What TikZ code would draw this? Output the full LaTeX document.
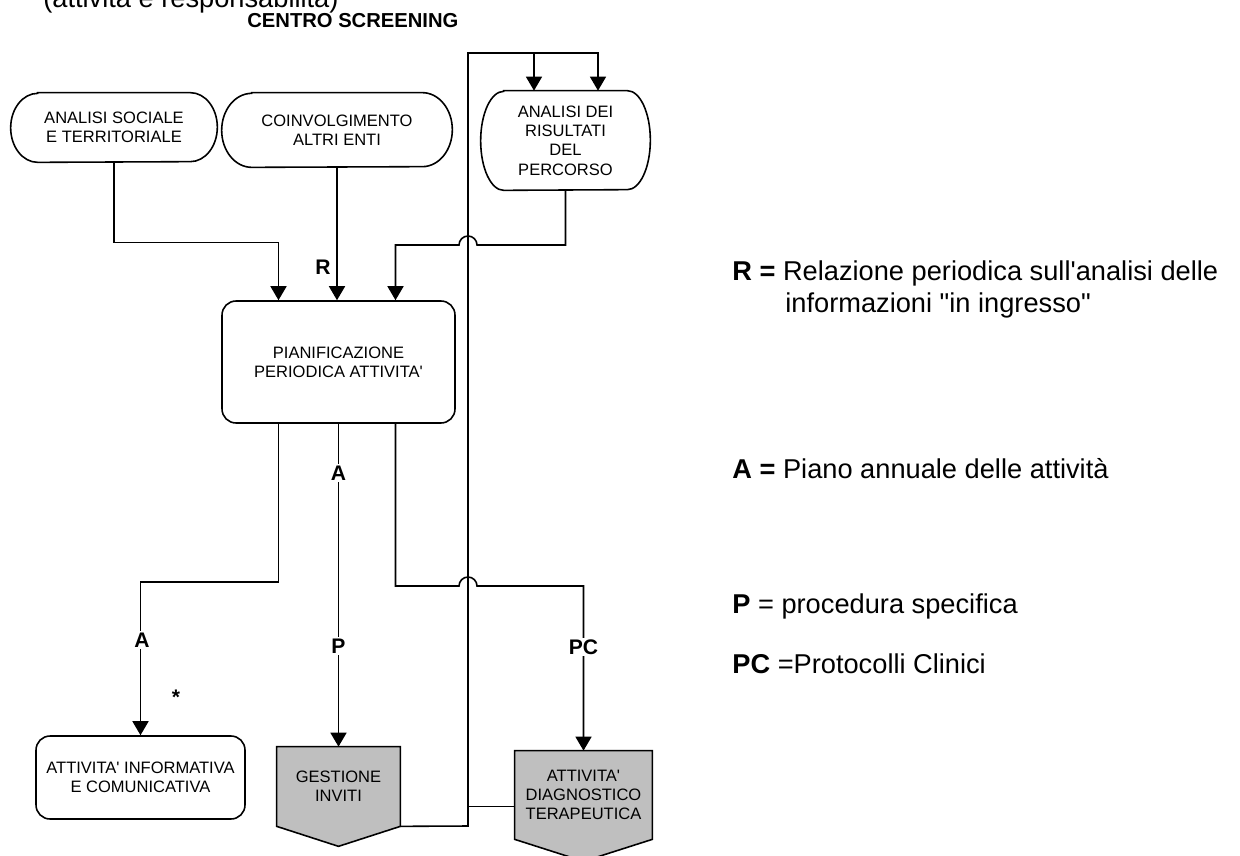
\documentclass[tikz,border=0pt]{standalone}
\usepackage{fontspec}
\newfontfamily\lsans{Liberation Sans}
\usetikzlibrary{arrows.meta,calc}
\pgfdeclarelayer{bg}
\pgfsetlayers{bg,main}
\tikzset{
  boxtext/.style={align=center, inner sep=0pt, font=\lsans\fontsize{9.4}{11}\selectfont},
  roundbox/.style={boxtext, draw, line width=0.9pt, rounded corners=0.28cm},
  conn/.style={line width=0.9pt},
  arr/.style={-{Triangle[width=0.32cm,length=0.28cm]}},
  lbl/.style={font=\lsans\bfseries\fontsize{12}{14}\selectfont, fill=white, inner sep=1pt},
  legend/.style={anchor=base west, inner sep=0pt, font=\lsans\fontsize{15.5}{18}\selectfont},
  outline/.style={line width=0.9pt},
  shaded/.style={outline, fill=gray!50},
}
% stadium outline around a node: #1 node, #2 end x radius, #3 half height
\newcommand{\stadium}[3]{%
  \draw[outline] ($(#1.north west)+(#2,0)$) -- ($(#1.north east)+(-#2,0)$)
    arc[start angle=90,end angle=-90,x radius=#2*0.02cm,y radius=#3*0.02cm]
    -- ($(#1.south west)+(#2,0)$)
    arc[start angle=270,end angle=90,x radius=#2*0.02cm,y radius=#3*0.02cm] -- cycle;}
% off-page shape (box with a pointed bottom): #1 node, #2 depth of the point
\newcommand{\offpage}[2]{%
  \draw[shaded] (#1.north west) -- (#1.north east) -- (#1.south east)
    -- ($(#1.south)+(0,-#2)$) -- (#1.south west) -- cycle;}
\begin{document}
\begin{tikzpicture}[x=0.02cm,y=0.02cm]
\useasboundingbox (0,0) rectangle (1240,-855);
\clip (0,0) rectangle (1240,-855);

% headings
\node[legend] (title) at (43,-8) {(attività e responsabilità)};
\node[anchor=base west, inner sep=0pt, font=\lsans\bfseries\fontsize{11.5}{13}\selectfont] (centro) at (247,-28) {CENTRO SCREENING};

% input blocks
\node[boxtext, minimum width=4.12cm, minimum height=1.38cm] (soc) at (114,-127.5) {ANALISI SOCIALE\\E TERRITORIALE};
\node[boxtext, minimum width=4.6cm, minimum height=1.48cm] (enti) at (337,-130) {COINVOLGIMENTO\\ALTRI ENTI};
\node[boxtext, minimum width=3.38cm, minimum height=1.98cm] (ris) at (565.5,-140.5) {ANALISI DEI\\RISULTATI\\DEL\\PERCORSO};
\stadium{soc}{27}{34.5}
\stadium{enti}{30}{37}
\stadium{ris}{23}{49.5}

% planning
\node[roundbox, minimum width=4.66cm, minimum height=2.44cm] (pian) at (338.5,-362) {PIANIFICAZIONE\\PERIODICA ATTIVITA'};

% output blocks
\node[roundbox, minimum width=4.18cm, minimum height=1.66cm] (info) at (140.5,-777.5) {ATTIVITA' INFORMATIVA\\E COMUNICATIVA};
\node[boxtext, minimum width=2.46cm, minimum height=1.58cm] (gest) at (338.5,-786.5) {GESTIONE\\INVITI};
\node[boxtext, minimum width=2.74cm, minimum height=1.76cm] (diag) at (583.5,-795) {ATTIVITA'\\DIAGNOSTICO\\TERAPEUTICA};
\begin{pgfonlayer}{bg}
  \offpage{gest}{20}
  \offpage{diag}{22}
\end{pgfonlayer}

% crossing points and feedback bus
\coordinate (jA) at (468,-245);
\coordinate (jB) at (468,-586);
\coordinate (busT) at (468,-53);
\coordinate (busB) at (468,-826);
\coordinate (brT) at ($(busT)+(66,0)$);
\coordinate (dl) at ($(diag.south west)+(0,33)$);

% inputs into planning
\draw[conn,arr] (soc.south) -- ++(0,-80) -| ($(pian.north)+(-60,0)$);
\draw[conn,arr] (enti.south) -- (enti.south |- pian.north);
\draw[conn,arr] (ris.south) |- ($(jA)+(9,0)$)
  arc[start angle=0,end angle=180,radius=0.18cm] -| ($(pian.north)+(57,0)$);
\node[lbl, fill=none] (lR) at (323,-267) {R};

% planning outputs
\draw[conn,arr] ($(pian.south)+(-60,0)$) -- ++(0,-158) -| (info.north);
\draw[conn,arr] (pian.south) -- (pian.south |- gest.north);
\draw[conn,arr] ($(pian.south)+(57,0)$) |- ($(jB)+(-9,0)$)
  arc[start angle=180,end angle=0,radius=0.18cm] -| (diag.north);
\node[lbl] (lA1) at (142,-640) {A};
\node[lbl] (lA2) at (338.5,-473) {A};
\node[lbl] (lP) at (338.5,-646) {P};
\node[lbl] (lPC) at (583.5,-647) {PC};
\node[lbl, fill=none] (star) at (176,-697) {*};

% feedback to the results analysis
\draw[conn,arr] (gest.south east) -- (busB) -- (busT) -| ($(ris.north)+(32.5,0)$);
\draw[conn,arr] (brT) -- (brT |- ris.north);
\draw[conn] (dl) -- (dl -| busT);

% legend
\node[legend] (legR) at (732,-280) {\textbf{R =} Relazione periodica sull'analisi delle};
\node[legend] (legR2) at (785,-312) {informazioni "in ingresso"};
\node[legend] (legA) at (732,-478) {\textbf{A =} Piano annuale delle attività};
\node[legend] (legP) at (732,-613) {\textbf{P} = procedura specifica};
\node[legend] (legPC) at (732,-673) {\textbf{PC} =Protocolli Clinici};
\end{tikzpicture}
\end{document}
